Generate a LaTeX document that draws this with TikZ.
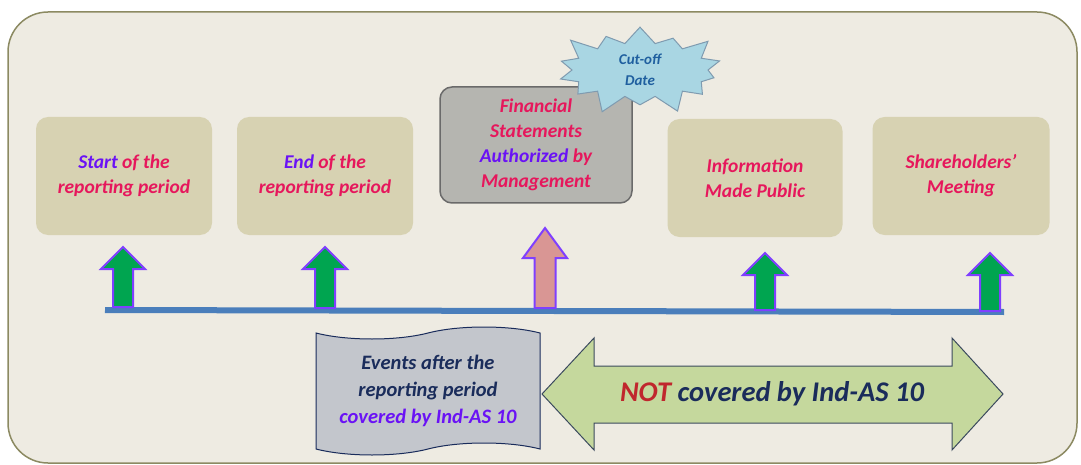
\documentclass[tikz,border=0pt]{standalone}
\usepackage{fontspec}
\setmainfont{Carlito}
\usetikzlibrary{shapes.symbols}

\definecolor{panelfill}{HTML}{EEEBE2}
\definecolor{paneledge}{HTML}{8C8A62}
\definecolor{boxtan}{HTML}{D7D2B2}
\definecolor{boxgrey}{HTML}{B5B5B0}
\definecolor{greyedge}{HTML}{6A6A6A}
\definecolor{textpink}{HTML}{E6175C}
\definecolor{textpurple}{HTML}{6A12F5}
\definecolor{burstfill}{HTML}{A9D6E3}
\definecolor{burstedge}{HTML}{7F9BB0}
\definecolor{bursttext}{HTML}{1F5F9F}
\definecolor{tapefill}{HTML}{C3C6CC}
\definecolor{navy}{HTML}{1A2C5B}
\definecolor{notred}{HTML}{C0272D}
\definecolor{dblfill}{HTML}{C5D89D}
\definecolor{dbledge}{HTML}{3B4A5E}
\definecolor{arrowgreen}{HTML}{00A550}
\definecolor{arrowpink}{HTML}{D99694}
\definecolor{arrowpurple}{HTML}{7F3FFF}
\definecolor{lineblue}{HTML}{4A7EBB}

\tikzset{
  event/.style={rounded corners=12pt, fill=boxtan, minimum width=176pt,
    minimum height=118pt, align=center, text=textpink,
    font=\fontsize{19.5}{25}\selectfont\bfseries\itshape},
  uparrow/.style={fill=arrowgreen, draw=arrowpurple, line width=2pt},
}

\begin{document}
\begin{tikzpicture}[x=1pt,y=-1pt]
  \useasboundingbox (0,0) rectangle (1081,465);
  \draw [fill=panelfill, draw=paneledge, line width=1.5pt, rounded corners=40pt]
    (8,12) rectangle (1077,463);

  % the dates
  \node [event] (start) at (124,176) {{\color{textpurple}Start} of the\\reporting period};
  \node [event] (end) at (325,176) {{\color{textpurple}End} of the\\reporting period};
  \node [event, fill=boxgrey, draw=greyedge, line width=1.5pt, minimum width=192pt,
    minimum height=116pt] (approve) at (536,145)
    {Financial\\Statements\\{\color{textpurple}Authorized} by\\Management};
  \node [event, minimum width=175pt] (public) at (755,178) {Information\\Made Public};
  \node [event, minimum width=177pt] (meeting) at (961,176) {Shareholders'\\Meeting};

  \node [starburst, starburst points=14, starburst point height=22pt,
    fill=burstfill, draw=burstedge, line width=1pt, minimum width=180pt,
    minimum height=94pt, align=center, text=bursttext,
    font=\fontsize{15}{21}\selectfont\bfseries\itshape] (cutoff) at (640,70)
    {Cut-off\\Date};

  % time line
  \coordinate (tl-start) at (105,310);
  \coordinate (tl-end) at (1004,312);
  \draw [lineblue, line width=6pt] (tl-start) -- (tl-end);

  \foreach \x/\t/\b in {123/247/307,325/247/308,765/253/310,990/253/311}
    \filldraw [uparrow] (\x-10,\b) -- (\x-10,\t+22) -- (\x-22,\t+22) -- (\x,\t)
      -- (\x+22,\t+22) -- (\x+10,\t+22) -- (\x+10,\b) -- cycle;
  \filldraw [uparrow, fill=arrowpink] (534.5,308) -- (534.5,258) -- (523,258) -- (545,228)
    -- (567,258) -- (555.5,258) -- (555.5,308) -- cycle;

  % periods
  \node [tape, tape bend height=12pt, fill=tapefill, draw=navy, line width=1pt,
    minimum width=224pt, minimum height=128pt, align=center, text=navy,
    font=\fontsize{20.5}{27}\selectfont\bfseries\itshape] (covered) at (428,391)
    {Events after the\\reporting period\\{\color{textpurple}covered by Ind-AS 10}};

  \filldraw [fill=dblfill, draw=dbledge, line width=1pt]
    (542,394) -- (594,338) -- (594,366) -- (952,366) -- (952,338) -- (1003,394)
    -- (952,450) -- (952,423) -- (594,423) -- (594,450) -- cycle;
  \node [text=navy, font=\fontsize{28.5}{32}\selectfont\bfseries\itshape] (notcovered)
    at (772,394) {{\color{notred}NOT} covered by Ind-AS 10};
\end{tikzpicture}
\end{document}
